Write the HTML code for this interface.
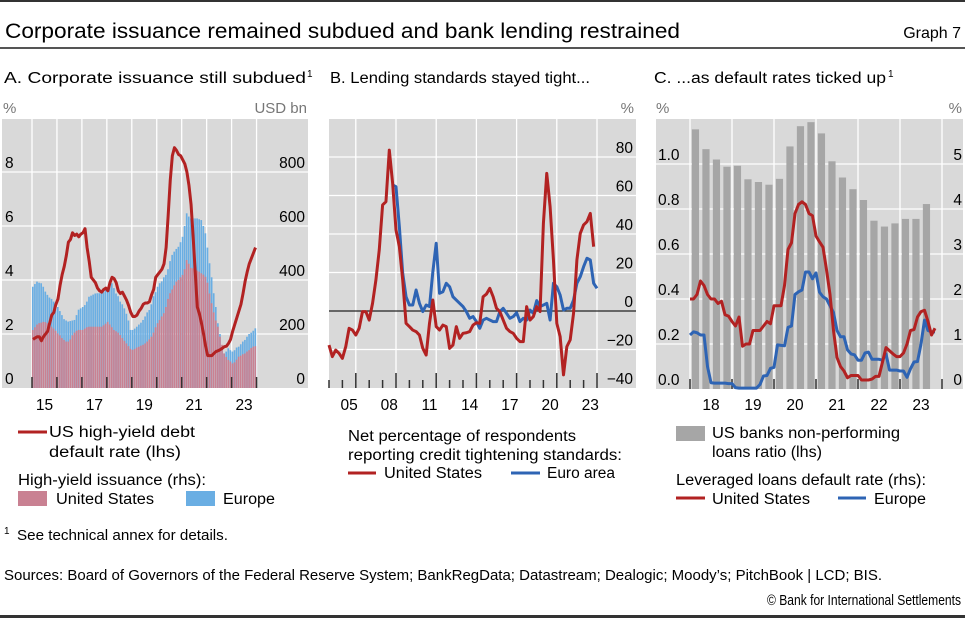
<!DOCTYPE html>
<html><head><meta charset="utf-8">
<style>
html,body{margin:0;padding:0;background:#fff;}
svg{display:block;font-family:"Liberation Sans",sans-serif;}
</style></head>
<body>
<svg id="chart" width="965" height="618" viewBox="0 0 965 618" xmlns="http://www.w3.org/2000/svg">
<rect x="0" y="0" width="965" height="2" fill="#333"/>
<text x="5" y="38" font-size="21" fill="#000" textLength="675" lengthAdjust="spacingAndGlyphs">Corporate issuance remained subdued and bank lending restrained</text>
<text x="961" y="38" font-size="16" text-anchor="end" fill="#000">Graph 7</text>
<rect x="0" y="47" width="965" height="2" fill="#555"/>
<text x="4" y="83" font-size="15.5" textLength="302" lengthAdjust="spacingAndGlyphs">A. Corporate issuance still subdued</text>
<text x="307" y="77" font-size="10">1</text>
<text x="330" y="83" font-size="15.5" textLength="260" lengthAdjust="spacingAndGlyphs">B. Lending standards stayed tight...</text>
<text x="654" y="83" font-size="15.5" textLength="232" lengthAdjust="spacingAndGlyphs">C. ...as default rates ticked up</text>
<text x="888" y="77" font-size="10">1</text>
<g id="pa"></g>
<g id="pb"></g>
<g id="pc"></g>

<!-- Legend A -->
<g font-size="15.5">
<line x1="18" y1="432" x2="47" y2="432" stroke="#b22222" stroke-width="3"/>
<text x="49" y="437" textLength="146" lengthAdjust="spacingAndGlyphs">US high-yield debt</text>
<text x="49" y="457" textLength="132" lengthAdjust="spacingAndGlyphs">default rate (lhs)</text>
<text x="18" y="485" textLength="188" lengthAdjust="spacingAndGlyphs">High-yield issuance (rhs):</text>
<rect x="18" y="491" width="29" height="15" fill="#c98192"/>
<text x="56" y="504" textLength="98" lengthAdjust="spacingAndGlyphs">United States</text>
<rect x="186" y="491" width="29" height="15" fill="#6aaee3"/>
<text x="223" y="504" textLength="52" lengthAdjust="spacingAndGlyphs">Europe</text>
</g>
<!-- Legend B -->
<g font-size="15.5">
<text x="348" y="441" textLength="228" lengthAdjust="spacingAndGlyphs">Net percentage of respondents</text>
<text x="348" y="460" textLength="274" lengthAdjust="spacingAndGlyphs">reporting credit tightening standards:</text>
<line x1="348" y1="473" x2="376" y2="473" stroke="#b22222" stroke-width="3"/>
<text x="384" y="478" textLength="98" lengthAdjust="spacingAndGlyphs">United States</text>
<line x1="511" y1="473" x2="540" y2="473" stroke="#2e64b4" stroke-width="3"/>
<text x="547" y="478" textLength="68" lengthAdjust="spacingAndGlyphs">Euro area</text>
</g>
<!-- Legend C -->
<g font-size="15.5">
<rect x="676" y="426" width="29" height="15" fill="#a6a6a6"/>
<text x="712" y="438" textLength="188" lengthAdjust="spacingAndGlyphs">US banks non-performing</text>
<text x="712" y="457" textLength="110" lengthAdjust="spacingAndGlyphs">loans ratio (lhs)</text>
<text x="676" y="485" textLength="250" lengthAdjust="spacingAndGlyphs">Leveraged loans default rate (rhs):</text>
<line x1="676" y1="498" x2="705" y2="498" stroke="#b22222" stroke-width="3"/>
<text x="712" y="504" textLength="98" lengthAdjust="spacingAndGlyphs">United States</text>
<line x1="838" y1="498" x2="866" y2="498" stroke="#2e64b4" stroke-width="3"/>
<text x="874" y="504" textLength="52" lengthAdjust="spacingAndGlyphs">Europe</text>
</g>
<text x="4" y="534" font-size="10">1</text>
<text x="17" y="540" font-size="15" textLength="211" lengthAdjust="spacingAndGlyphs">See technical annex for details.</text>
<text x="4" y="580" font-size="15" textLength="878" lengthAdjust="spacingAndGlyphs">Sources: Board of Governors of the Federal Reserve System; BankRegData; Datastream; Dealogic; Moody’s; PitchBook | LCD; BIS.</text>
<text x="961" y="605" font-size="14.5" text-anchor="end" textLength="194" lengthAdjust="spacingAndGlyphs">© Bank for International Settlements</text>
<rect x="0" y="615" width="965" height="3" fill="#333"/>
</svg>
<script>
// ---------- Panel A data (monthly from Jan 2015) ----------
const aDefaultRate = [1.8,1.85,1.9,1.9,1.75,1.9,2.0,2.1,2.4,2.7,2.8,3.1,3.3,3.8,4.2,4.5,4.9,5.4,5.5,5.75,5.65,5.7,5.6,5.7,5.75,5.9,5.2,4.7,4.1,4.0,3.9,3.7,3.6,3.55,3.65,3.7,3.6,3.9,4.1,4.05,3.9,3.6,3.5,3.55,3.4,3.25,3.05,2.8,2.65,2.65,2.7,2.85,2.95,3.1,3.15,3.15,3.2,3.45,3.65,4.1,4.2,4.3,4.4,4.6,5.2,6.4,7.7,8.6,8.9,8.8,8.65,8.6,8.45,8.3,8.0,7.5,6.8,5.6,4.3,3.0,2.75,2.4,2.0,1.55,1.2,1.2,1.2,1.28,1.35,1.38,1.42,1.47,1.53,1.55,1.65,1.8,2.1,2.35,2.6,2.85,3.1,3.5,3.95,4.3,4.6,4.8,5.0,5.2];
const aIssuanceUS = [215,225,235,240,242,245,244,240,235,227,220,212,202,195,185,178,172,172,180,195,205,212,215,215,215,220,225,227,227,227,227,227,227,227,232,238,245,235,225,215,210,205,196,185,175,165,155,145,141,145,150,153,157,160,165,172,180,190,205,225,240,252,265,277,300,330,351,365,380,394,400,410,419,440,474,460,445,443,438,435,431,425,420,412,390,350,314,280,250,227,190,160,128,115,104,98,91,95,105,116,120,125,128,135,140,148,153,155];
const aIssuanceTotal = [375,385,394,390,388,375,357,345,335,330,320,314,300,285,270,255,250,246,248,250,252,270,290,295,300,307,320,338,342,346,350,351,351,351,355,365,369,378,388,370,350,340,320,310,295,275,250,215,215,220,227,235,242,252,265,280,289,310,340,355,375,388,395,410,419,440,470,493,505,515,523,540,560,600,647,635,628,628,628,628,625,622,600,573,520,462,410,351,300,240,200,147,128,135,147,140,135,140,150,153,162,172,178,190,200,205,212,221];
const aLeftTicks = [0,2,4,6,8];
const aRightTicks = [0,200,400,600,800];
const aYearLabels = ["15","17","19","21","23"];
// ---------- Panel B data (quarterly from 2004 Q1 US, euro from 2008 Q4) ----------
const bUS = [-17.7,-23.7,-20.3,-22,-24.6,-18.5,-9,-9.9,-12.5,-9,-0.3,-0.3,-4.7,4,16.1,31.7,55.1,56.8,83.6,66.3,42.1,33.4,16.1,-6.4,-8.1,-9.9,-10.7,-12.5,-19.4,-22.9,-6.4,5.7,-8.1,-9.9,-7.3,-8.1,-19.4,-17.7,-8.1,-14.2,-11.6,-11.3,-10.7,-7.3,-6.1,-6.4,7.4,8.8,11.8,7.4,1.4,-0.3,-4.7,-9,-10.7,-11.6,-14.2,-15.9,-15.9,2.3,-4.7,-2.9,2.3,-0.3,45.5,71.5,54.2,26.5,-6.4,-13.3,-33.2,-18.5,-15,-1.2,26.5,40.3,44.7,46.4,50.7,33.4];
const bEuroStart = 19;
const bEuro = [65.5,64.6,43.8,19.6,7.4,3.1,3.1,10.9,4,-0.3,3.1,2.3,20.4,35.2,9.2,10,14.4,12.6,7.4,5.7,4,2.3,-0.3,-3.8,-2.9,-5.5,-9,-4.7,-3.8,-4.7,-5.5,-5.5,-0.3,1.4,-1.2,-3.8,-2.9,-0.9,-5.5,-3.8,-4.7,0.5,-1.2,5.4,2.3,3.1,4,-4.7,14.4,12.6,8.3,0.5,1.4,1.4,5.7,14.4,17.8,23,27.4,26.5,14.4,11.8];
const bTicks = [-40,-20,0,20,40,60,80];
const bYearLabels = ["05","08","11","14","17","20","23"];
// ---------- Panel C data ----------
const cNPL = [1.154,1.066,1.02,0.988,0.992,0.932,0.92,0.908,0.934,1.078,1.168,1.186,1.136,1.012,0.94,0.888,0.84,0.748,0.722,0.736,0.756,0.756,0.822];
const cUS = [2.0,2.0,2.1,2.4,2.3,2.1,2.0,2.0,1.9,1.95,1.65,1.62,1.5,1.4,1.6,0.95,1.0,1.0,1.3,1.3,1.3,1.4,1.5,1.45,1.85,1.85,1.85,2.3,3.1,3.25,3.9,4.1,4.16,4.1,3.9,3.85,3.4,3.27,3.15,2.65,2.1,1.3,0.7,0.5,0.4,0.25,0.3,0.3,0.3,0.2,0.2,0.2,0.22,0.28,0.28,0.6,0.92,0.85,0.78,0.72,0.72,0.8,1.0,1.3,1.32,1.6,1.72,1.75,1.5,1.2,1.35];
const cEurope = [1.2,1.27,1.25,1.2,1.2,0.5,0.14,0.13,0.13,0.13,0.13,0.12,0.12,0.03,0.02,0.02,0.02,0.02,0.02,0.02,0.1,0.29,0.3,0.46,0.48,0.98,0.97,0.96,1.37,1.4,2.1,2.16,2.2,2.6,2.6,2.45,2.58,2.15,2.05,2.0,1.85,1.7,1.3,1.16,1.16,0.87,0.78,0.76,0.64,0.64,0.8,0.82,0.66,0.66,0.66,0.64,0.78,0.42,0.42,0.42,0.4,0.4,0.26,0.45,0.6,0.61,1.0,1.53,1.3,1.27,1.27];
const cLeftTicks = [0,0.2,0.4,0.6,0.8,1.0];
const cRightTicks = [0,1,2,3,4,5];
const cYearLabels = ["18","19","20","21","22","23"];

const NS = "http://www.w3.org/2000/svg";
function mk(parent, tag, attrs){const e=document.createElementNS(NS,tag);for(const k in attrs)e.setAttribute(k,attrs[k]);parent.appendChild(e);return e;}
function txt(parent, s, attrs){const e=mk(parent,'text',attrs);e.textContent=s;return e;}
const RED="#b22222", BLUE="#2e64b4", BG="#d9d9d9";

// ===== Panel A =====
(function(){
  const g=document.getElementById('pa');
  const L=2,R=308,T=119,B=388;
  const xY=y=>32+(y-2015)*24.95;
  const yL=v=>B-v*27;
  const yR=v=>B-v*0.27;
  let e=mk(g,'rect',{x:L,y:T,width:R-L,height:B-T,fill:BG});
  
  
  aLeftTicks.forEach(v=>{ if(v>0){e=mk(g,'line',{x1:L,x2:R,y1:yL(v),y2:yL(v),stroke:'#fff','stroke-width':1.3});
    
    }
  });
  for(let y=2015;y<=2024;y++){e=mk(g,'line',{x1:xY(y),x2:xY(y),y1:T,y2:B,stroke:'#fff','stroke-width':1.3});
    
    }
  const bw=24.95/12;
  aIssuanceTotal.forEach((v,i)=>{const x=xY(2015+i/12);
    e=mk(g,'rect',{x:x,y:yR(v),width:bw*0.8,height:B-yR(v),fill:'#6aaee3'});
    
    });
  aIssuanceUS.forEach((v,i)=>{const x=xY(2015+i/12);
    e=mk(g,'rect',{x:x,y:yR(v),width:bw*0.8,height:B-yR(v),fill:'#c98192'});
    
    });
  for(let y=2015;y<=2024;y++){e=mk(g,'line',{x1:xY(y),x2:xY(y),y1:B-11,y2:B,stroke:'#333','stroke-width':1.5});
    
    }
  e=mk(g,'polyline',{points:aDefaultRate.map((v,i)=>xY(2015+i/12+1/24)+','+yL(v)).join(' '),fill:'none',stroke:RED,'stroke-width':3,'stroke-linejoin':'round'});
  
  
  aLeftTicks.forEach(v=>{e=txt(g,String(v),{x:5,y:yL(v)-4,'font-size':15.5});
    
    });
  aRightTicks.forEach(v=>{e=txt(g,String(v),{x:305,y:yR(v)-4,'font-size':15.5,'text-anchor':'end'});
    
    });
  aYearLabels.forEach(s=>{const y=2000+Number(s);e=txt(g,s,{x:xY(y+0.5),y:410,'font-size':15.5,'text-anchor':'middle'});
    
    });
  e=txt(g,'%',{x:3,y:113,'font-size':15,fill:'#777'});
  
  
  e=txt(g,'USD bn',{x:307,y:113,'font-size':15,fill:'#777','text-anchor':'end'});
  
  
})();

// ===== Panel B =====
(function(){
  const g=document.getElementById('pb');
  const L=329,R=636,T=119,B=388;
  const xY=y=>396+(y-2009)*13.4;
  const yV=v=>311-v*1.925;
  let e=mk(g,'rect',{x:L,y:T,width:R-L,height:B-T,fill:BG});
  
  
  bTicks.forEach(v=>{ if(v!==0&&v>-40){e=mk(g,'line',{x1:L,x2:R,y1:yV(v),y2:yV(v),stroke:'#fff','stroke-width':1.3});
    
    }});
  for(let y=2006;y<=2024;y+=3){e=mk(g,'line',{x1:xY(y),x2:xY(y),y1:T,y2:B,stroke:'#fff','stroke-width':1.3});
    
    }
  for(let y=2004;y<=2024;y++){const major=((y-2006)%3===0);e=mk(g,'line',{x1:xY(y),x2:xY(y),y1:major?B-15:B-8,y2:B,stroke:'#333','stroke-width':1.5});
    
    }
  e=mk(g,'line',{x1:L,x2:R,y1:yV(0),y2:yV(0),stroke:'#222','stroke-width':1.3});
  
  
  e=mk(g,'polyline',{points:bEuro.map((v,i)=>xY(2004+(bEuroStart+i)/4)+','+yV(v)).join(' '),fill:'none',stroke:BLUE,'stroke-width':3,'stroke-linejoin':'round'});
  
  
  e=mk(g,'polyline',{points:bUS.map((v,i)=>xY(2004+i/4)+','+yV(v)).join(' '),fill:'none',stroke:RED,'stroke-width':3,'stroke-linejoin':'round'});
  
  
  bTicks.forEach(v=>{e=txt(g,(v<0?'\u2212':'')+Math.abs(v),{x:633,y:yV(v)-4,'font-size':15.5,'text-anchor':'end'});
    
    });
  bYearLabels.forEach(s=>{const y=2000+Number(s);e=txt(g,s,{x:xY(y+0.5),y:410,'font-size':15.5,'text-anchor':'middle'});
    
    });
  e=txt(g,'%',{x:634,y:113,'font-size':15,fill:'#777','text-anchor':'end'});
  
  
})();

// ===== Panel C =====
(function(){
  const g=document.getElementById('pc');
  const L=656,R=963,T=119,B=389;
  const xY=y=>690+(y-2018)*42;
  const yL=v=>B-v*225;
  const yR=v=>B-v*45;
  let e=mk(g,'rect',{x:L,y:T,width:R-L,height:B-T,fill:BG});
  
  
  cLeftTicks.forEach(v=>{ if(v>0){e=mk(g,'line',{x1:L,x2:R,y1:yL(v),y2:yL(v),stroke:'#fff','stroke-width':1.3});
    
    }});
  for(let y=2018;y<=2024;y++){e=mk(g,'line',{x1:xY(y),x2:xY(y),y1:T,y2:B,stroke:'#fff','stroke-width':1.3});
    
    }
  cNPL.forEach((v,i)=>{const cx=xY(2018+i/4+0.13);
    e=mk(g,'rect',{x:cx-3.6,y:yL(v),width:7.2,height:B-yL(v),fill:'#a6a6a6'});
    
    });
  for(let y=2018;y<=2024;y++){e=mk(g,'line',{x1:xY(y),x2:xY(y),y1:B-10,y2:B,stroke:'#333','stroke-width':1.5});
    
    }
  e=mk(g,'polyline',{points:cEurope.map((v,i)=>xY(2018+i/12)+','+yR(v)).join(' '),fill:'none',stroke:BLUE,'stroke-width':3,'stroke-linejoin':'round'});
  
  
  e=mk(g,'polyline',{points:cUS.map((v,i)=>xY(2018+i/12)+','+yR(v)).join(' '),fill:'none',stroke:RED,'stroke-width':3,'stroke-linejoin':'round'});
  
  
  cLeftTicks.forEach(v=>{e=txt(g,v.toFixed(1),{x:658,y:yL(v)-4,'font-size':15.5});
    
    });
  cRightTicks.forEach(v=>{e=txt(g,String(v),{x:962,y:yR(v)-4,'font-size':15.5,'text-anchor':'end'});
    
    });
  cYearLabels.forEach(s=>{const y=2000+Number(s);e=txt(g,s,{x:xY(y+0.5),y:410,'font-size':15.5,'text-anchor':'middle'});
    
    });
  e=txt(g,'%',{x:656,y:113,'font-size':15,fill:'#777'});
  
  
  e=txt(g,'%',{x:962,y:113,'font-size':15,fill:'#777','text-anchor':'end'});
  
  
})();
</script>
</body></html>
